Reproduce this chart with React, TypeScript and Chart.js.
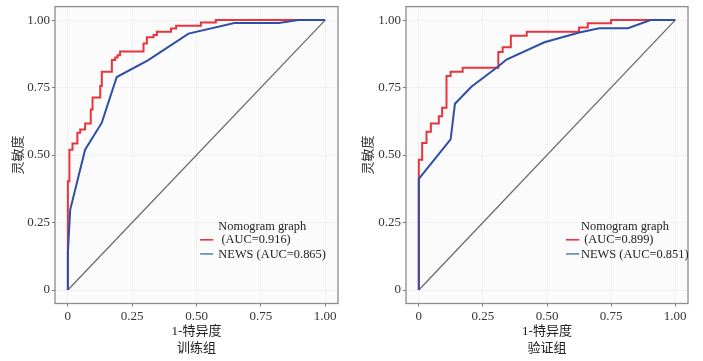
import React, { useEffect, useRef } from 'react';
import { Chart, registerables } from 'chart.js';
Chart.register(...registerables);

// ---- data ----
const tickValues = [0, 0.25, 0.5, 0.75, 1];
const tickLabels = ['0', '0.25', '0.50', '0.75', '1.00'];

const trainNomoFpr = [0, 0, 0.006, 0.018, 0.037, 0.048, 0.067, 0.089, 0.096, 0.126, 0.132, 0.171, 0.184, 0.193, 0.203, 0.294, 0.307, 0.333, 0.346, 0.401, 0.421, 0.517, 0.575, 1];
const trainNomoTpr = [0, 0.403, 0.52, 0.543, 0.583, 0.595, 0.617, 0.669, 0.713, 0.756, 0.809, 0.852, 0.861, 0.87, 0.884, 0.913, 0.936, 0.945, 0.957, 0.969, 0.979, 0.991, 1, 1];
const trainNewsFpr = [0, 0, 0.009, 0.067, 0.132, 0.19, 0.311, 0.469, 0.647, 0.82, 0.896, 1];
const trainNewsTpr = [0, 0.136, 0.297, 0.52, 0.62, 0.789, 0.851, 0.95, 0.989, 0.989, 1, 1];

const validNomoFpr = [0, 0, 0.013, 0.03, 0.047, 0.078, 0.091, 0.108, 0.124, 0.171, 0.31, 0.327, 0.359, 0.421, 0.625, 0.659, 0.75, 1];
const validNomoTpr = [0, 0.483, 0.545, 0.586, 0.617, 0.644, 0.675, 0.793, 0.809, 0.823, 0.882, 0.899, 0.942, 0.957, 0.973, 0.988, 1, 1];
const validNewsFpr = [0, 0, 0.124, 0.141, 0.205, 0.307, 0.342, 0.49, 0.626, 0.704, 0.816, 0.904, 1];
const validNewsTpr = [0, 0.412, 0.558, 0.69, 0.753, 0.826, 0.854, 0.918, 0.954, 0.97, 0.97, 1, 1];

const diagFpr = [0, 1];
const diagTpr = [0, 1];

const yTitle = '灵敏度';
const xTitle = '1-特异度';
const trainGroup = '训练组';
const validGroup = '验证组';
const trainLegend = ['Nomogram graph', ' (AUC=0.916)', 'NEWS (AUC=0.865)'];
const validLegend = ['Nomogram graph', ' (AUC=0.899)', 'NEWS (AUC=0.851)'];

// ---- styles ----
const FONT = '"Liberation Serif", "Noto Sans CJK SC", serif';
const RED = '#e8343c';
const BLUE = '#2f4fa6';
const KEY_BLUE = '#5a88b8';

const toPts = (xs: number[], ys: number[]) => xs.map((x, i) => ({ x, y: ys[i] }));

const panelPlugin = {
  id: 'panelDeco',
  beforeDraw(chart: any) {
    const { ctx, chartArea: a } = chart;
    ctx.save();
    ctx.fillStyle = '#fbfbfb';
    ctx.fillRect(a.left, a.top, a.right - a.left, a.bottom - a.top);
    ctx.restore();
  },
  afterDraw(chart: any, _args: any, opts: any) {
    const { ctx, chartArea: a, scales } = chart;
    ctx.save();
    ctx.strokeStyle = '#8c8c8c';
    ctx.lineWidth = 1.3;
    ctx.strokeRect(a.left, a.top, a.right - a.left, a.bottom - a.top);
    // legend
    const lg = opts.legend;
    if (lg) {
      const xs = scales.x;
      const ys = scales.y;
      ctx.font = '12.4px ' + FONT;
      ctx.fillStyle = '#222';
      ctx.textBaseline = 'middle';
      ctx.textAlign = 'left';
      const tx = xs.getPixelForValue(lg.textX);
      const k0 = xs.getPixelForValue(lg.keyStart);
      const k1 = xs.getPixelForValue(lg.keyEnd);
      const y0 = ys.getPixelForValue(lg.y[0]);
      const y1 = ys.getPixelForValue(lg.y[1]);
      const y2 = ys.getPixelForValue(lg.y[2]);
      ctx.fillText(lg.labels[0], tx, y0);
      ctx.fillText(lg.labels[1], tx, y1);
      ctx.fillText(lg.labels[2], tx, y2);
      ctx.lineWidth = 1.6;
      ctx.strokeStyle = RED;
      ctx.beginPath();
      ctx.moveTo(k0, y1);
      ctx.lineTo(k1, y1);
      ctx.stroke();
      ctx.strokeStyle = KEY_BLUE;
      ctx.beginPath();
      ctx.moveTo(k0, y2 - 1);
      ctx.lineTo(k1, y2 - 1);
      ctx.stroke();
    }
    ctx.restore();
  },
};

type PanelProps = {
  width: number;
  yWidth: number;
  padRight: number;
  nomoFpr: number[];
  nomoTpr: number[];
  newsFpr: number[];
  newsTpr: number[];
  group: string;
  legendLabels: string[];
  legendPos: { keyStart: number; keyEnd: number; textX: number; y: number[] };
};

function Panel(p: PanelProps) {
  const ref = useRef<HTMLCanvasElement>(null);
  useEffect(() => {
    if (!ref.current) return;
    const tickFont = { family: FONT, size: 13 };
    const chart = new Chart(ref.current, {
      type: 'scatter',
      data: {
        datasets: [
          {
            data: toPts(p.newsFpr, p.newsTpr),
            showLine: true,
            borderColor: BLUE,
            borderWidth: 2,
            pointRadius: 0,
            tension: 0,
          },
          {
            data: toPts(p.nomoFpr, p.nomoTpr),
            showLine: true,
            borderColor: RED,
            borderWidth: 2,
            pointRadius: 0,
            stepped: 'before',
          },
          {
            data: toPts(diagFpr, diagTpr),
            showLine: true,
            borderColor: '#6a6a6a',
            borderWidth: 1.3,
            pointRadius: 0,
          },
        ],
      } as any,
      options: {
        animation: false,
        responsive: false,
        maintainAspectRatio: false,
        events: [],
        layout: { padding: { top: 6.6, right: p.padRight, left: 0, bottom: 0 } },
        plugins: {
          legend: { display: false },
          tooltip: { enabled: false },
          panelDeco: {
            legend: { ...p.legendPos, labels: p.legendLabels },
          },
        } as any,
        scales: {
          x: {
            type: 'linear',
            min: -0.05,
            max: 1.05,
            afterBuildTicks: (s: any) => {
              s.ticks = tickValues.map((v) => ({ value: v }));
            },
            afterFit: (s: any) => {
              s.height = 57.5;
              s.paddingLeft = 0;
              s.paddingRight = 0;
            },
            ticks: {
              font: tickFont,
              color: '#333',
              padding: 2.5,
              maxRotation: 0,
              autoSkip: false,
              callback: (v: any) => {
                const i = tickValues.indexOf(Number(v));
                return i >= 0 ? tickLabels[i] : '';
              },
            },
            grid: { color: '#eeeeee', lineWidth: 0.8, tickLength: 3, tickColor: '#555', drawTicks: true },
            border: { display: false },
            title: {
              display: true,
              text: [xTitle, p.group],
              font: { family: FONT, size: 13, lineHeight: 1.33 },
              color: '#222',
              padding: { top: 0, bottom: 3.3 },
            },
          },
          y: {
            type: 'linear',
            min: -0.05,
            max: 1.05,
            afterBuildTicks: (s: any) => {
              s.ticks = tickValues.map((v) => ({ value: v }));
            },
            afterFit: (s: any) => {
              s.width = p.yWidth;
              s.paddingTop = 0;
              s.paddingBottom = 0;
            },
            ticks: {
              font: tickFont,
              color: '#333',
              padding: 2,
              autoSkip: false,
              callback: (v: any) => {
                const i = tickValues.indexOf(Number(v));
                return i >= 0 ? tickLabels[i] : '';
              },
            },
            grid: { color: '#eeeeee', lineWidth: 0.8, tickLength: 3, tickColor: '#555', drawTicks: true },
            border: { display: false },
            title: {
              display: true,
              text: yTitle,
              font: { family: FONT, size: 13, lineHeight: 1.2 },
              color: '#333',
              padding: { top: 10.5, bottom: 0 },
            },
          },
        },
      } as any,
      plugins: [panelPlugin],
    });
    return () => chart.destroy();
  }, []);
  return <canvas ref={ref} width={p.width} height={361} style={{ width: p.width, height: 361, display: 'block' }} />;
}

export default function App() {
  return (
    <div style={{ position: 'absolute', left: 0, top: 0, width: 703, height: 361, display: 'flex', background: '#fff' }}>
      <Panel
        width={350}
        yWidth={55}
        padRight={12}
        nomoFpr={trainNomoFpr}
        nomoTpr={trainNomoTpr}
        newsFpr={trainNewsFpr}
        newsTpr={trainNewsTpr}
        group={trainGroup}
        legendLabels={trainLegend}
        legendPos={{ keyStart: 0.514, keyEnd: 0.565, textX: 0.585, y: [0.234, 0.186, 0.13] }}
      />
      <Panel
        width={353}
        yWidth={56}
        padRight={15}
        nomoFpr={validNomoFpr}
        nomoTpr={validNomoTpr}
        newsFpr={validNewsFpr}
        newsTpr={validNewsTpr}
        group={validGroup}
        legendLabels={validLegend}
        legendPos={{ keyStart: 0.574, keyEnd: 0.626, textX: 0.633, y: [0.234, 0.186, 0.13] }}
      />
    </div>
  );
}
